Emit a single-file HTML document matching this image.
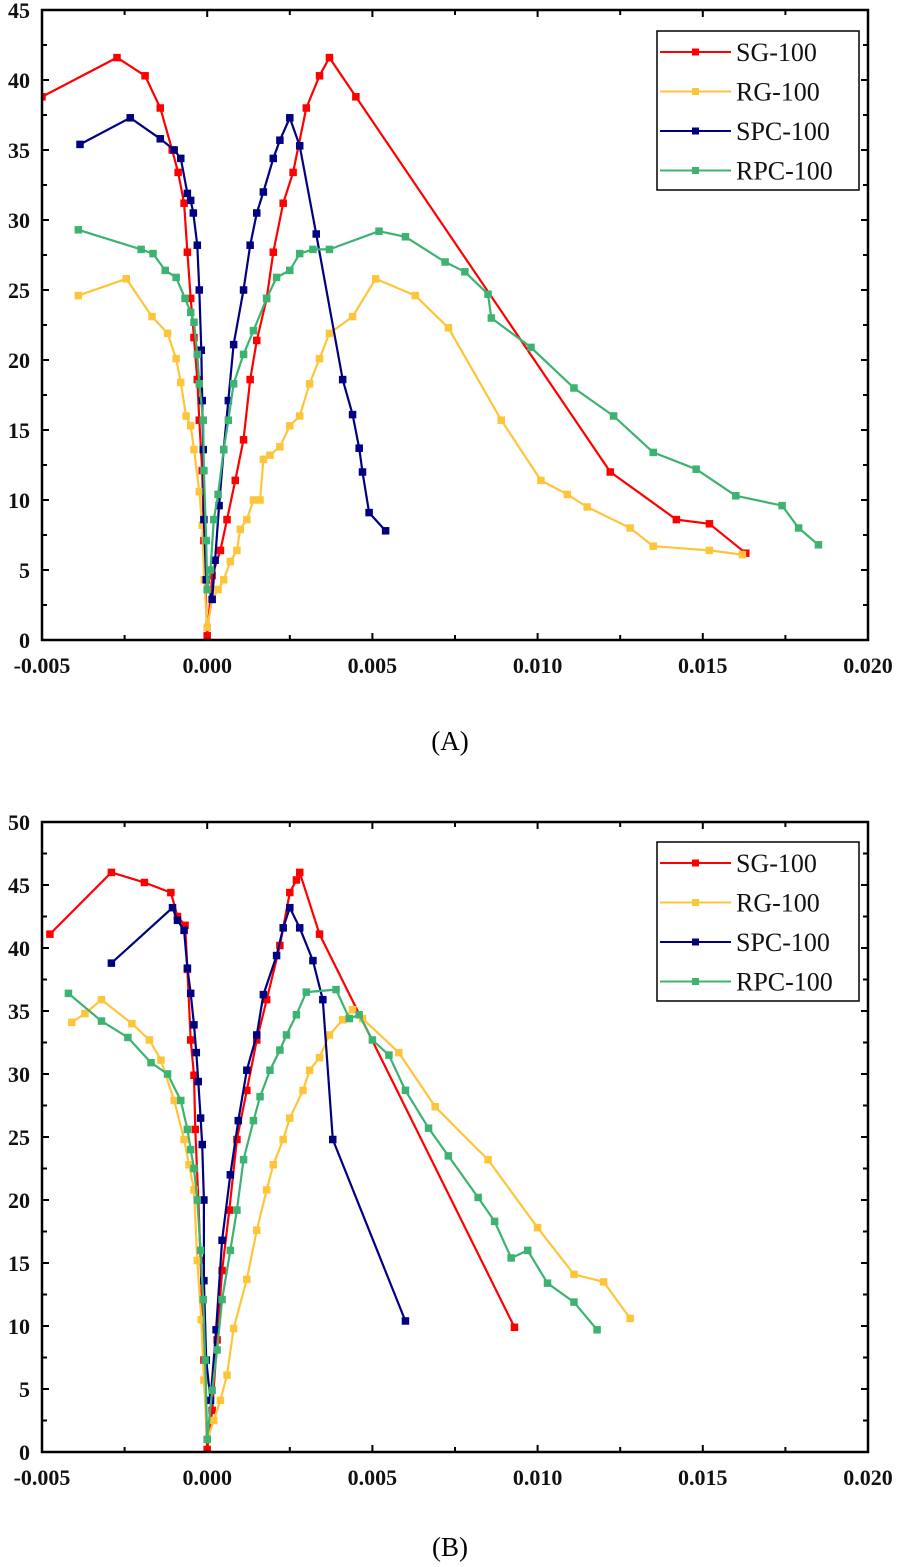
<!DOCTYPE html>
<html><head><meta charset="utf-8"><style>
html,body{margin:0;padding:0;background:#fff;}
svg{display:block;font-family:"Liberation Serif",serif;}
.tk{font-weight:bold;font-size:22px;fill:#111;}
</style></head><body>
<svg id="s" width="900" height="1567" viewBox="0 0 900 1567">
<text x="450" y="750" font-size="27" text-anchor="middle">(A)</text>
<text x="450" y="1556" font-size="27" text-anchor="middle">(B)</text>
</svg>
<script>
const seriesNames=["SG-100","RG-100","SPC-100","RPC-100"];
const seriesColors=["#ff0000","#ffc53a","#000080","#3cb371"];
const xTicks=[-0.005,0,0.005,0.010,0.015,0.020];
const xTickLabels=["-0.005","0.000","0.005","0.010","0.015","0.020"];
const yTicksA=[0,5,10,15,20,25,30,35,40,45];
const yTicksB=[0,5,10,15,20,25,30,35,40,45,50];
const aSGx=[-0.005,-0.00273,-0.00188,-0.00142,-0.00106,-0.00088,-0.0007,-0.0006,-0.0005,-0.0004,-0.0003,-0.00024,-0.00015,-0.0001,0,0.00015,0.0004,0.0006,0.00085,0.0011,0.0013,0.0015,0.0018,0.002,0.0023,0.0026,0.003,0.0034,0.0037,0.0045,0.0122,0.0142,0.0152,0.0163];
const aSGy=[38.8,41.6,40.3,38,35,33.4,31.2,27.7,24.4,21.6,18.6,15.7,12.1,7.1,0.3,4.6,6.4,8.6,11.4,14.3,18.6,21.4,24.4,27.7,31.2,33.4,38,40.3,41.6,38.8,12,8.6,8.3,6.2];
const aRGx=[-0.0039,-0.00245,-0.00167,-0.0012,-0.00094,-0.0008,-0.00064,-0.0005,-0.0004,-0.00024,-0.00015,-0.00009,0,0.00015,0.00033,0.0005,0.0007,0.0009,0.001,0.0012,0.0014,0.0016,0.0017,0.0019,0.0022,0.0025,0.0028,0.0031,0.0034,0.0037,0.0044,0.0051,0.0063,0.0073,0.0089,0.0101,0.0109,0.0115,0.0128,0.0135,0.0152,0.0162];
const aRGy=[24.6,25.8,23.1,21.9,20.1,18.4,16,15.3,13.6,10.6,8.2,4.3,0.9,2.9,3.6,4.3,5.6,6.4,7.9,8.6,10,10,12.9,13.2,13.8,15.3,16,18.3,20.1,21.9,23.1,25.8,24.6,22.3,15.7,11.4,10.4,9.5,8,6.7,6.4,6.1];
const aSPx=[-0.00385,-0.00233,-0.00142,-0.001,-0.0008,-0.0006,-0.0005,-0.00042,-0.0003,-0.00024,-0.00018,-0.00015,-0.00012,-0.0001,-0.00003,0.00015,0.00024,0.00036,0.0005,0.00064,0.0008,0.0011,0.0013,0.0015,0.0017,0.002,0.0022,0.0025,0.0028,0.0033,0.0041,0.0044,0.0046,0.0047,0.0049,0.0054];
const aSPy=[35.4,37.3,35.8,35,34.4,31.9,31.4,30.5,28.2,25,20.7,17.1,13.6,8.6,4.3,2.9,5.7,9.6,13.6,17.1,21.1,25,28.2,30.5,32,34.4,35.7,37.3,35.3,29,18.6,16.1,13.7,12,9.1,7.8];
const aRPx=[-0.0039,-0.002,-0.00164,-0.00127,-0.00094,-0.00067,-0.0005,-0.0004,-0.0003,-0.00024,-0.00012,-0.0001,-0.00003,0,0.0001,0.0002,0.00033,0.0005,0.00064,0.0008,0.0011,0.0014,0.0018,0.0021,0.0025,0.0028,0.0032,0.0037,0.0052,0.006,0.0072,0.0078,0.0085,0.0086,0.0098,0.0111,0.0123,0.0135,0.0148,0.016,0.0174,0.0179,0.0185];
const aRPy=[29.3,27.9,27.6,26.4,25.9,24.4,23.4,22.7,20.4,18.3,15.7,12.1,7.1,3.6,5,8.6,10.4,13.6,15.7,18.3,20.4,22.1,24.4,25.9,26.4,27.6,27.9,27.9,29.2,28.8,27,26.3,24.7,23,20.9,18,16,13.4,12.2,10.3,9.6,8,6.8];
const bSGx=[-0.00476,-0.0029,-0.0019,-0.0011,-0.0009,-0.00067,-0.0006,-0.0005,-0.0004,-0.00036,-0.00027,-0.0002,-0.0001,0,0.00015,0.0003,0.00045,0.00067,0.0009,0.0012,0.0015,0.0018,0.0022,0.0025,0.0027,0.0028,0.0034,0.0093];
const bSGy=[41.1,46,45.2,44.4,42.5,41.8,38.3,32.7,29.9,25.6,20,15.2,7.3,0.2,3.3,8.9,14.4,19.2,24.8,28.7,32.7,35.9,40.2,44.4,45.4,46,41.1,9.9];
const bRGx=[-0.0041,-0.0037,-0.0032,-0.00228,-0.00175,-0.0014,-0.001,-0.0007,-0.00055,-0.0004,-0.0003,-0.00018,-0.0001,0,0.0002,0.0004,0.0006,0.0008,0.0012,0.0015,0.0018,0.002,0.0023,0.0025,0.0029,0.0031,0.0034,0.0037,0.0041,0.0044,0.0047,0.0058,0.0069,0.0085,0.01,0.0111,0.012,0.0128];
const bRGy=[34.1,34.8,35.9,34,32.7,31.1,27.9,24.8,22.8,20.8,15.2,10.5,5.7,1,2.5,4.1,6.1,9.8,13.7,17.6,20.8,22.8,24.8,26.5,28.7,30.3,31.3,33.1,34.3,35.1,34.4,31.7,27.4,23.2,17.8,14.1,13.5,10.6];
const bSPx=[-0.0029,-0.00105,-0.0009,-0.0007,-0.0006,-0.0005,-0.0004,-0.00033,-0.00027,-0.0002,-0.00015,-0.0001,-0.0001,-0.00003,0.0001,0.00027,0.00045,0.0007,0.00094,0.0012,0.0015,0.0017,0.0021,0.0023,0.0025,0.0028,0.0032,0.0035,0.0038,0.006];
const bSPy=[38.8,43.2,42.2,41.4,38.4,36.4,33.9,31.7,29.4,26.5,24.4,20,13.6,7.3,4.1,9.7,16.8,22,26.3,30.3,33.1,36.3,39.4,41.6,43.2,41.6,39,35.9,24.8,10.4];
const bRPx=[-0.0042,-0.0032,-0.0024,-0.0017,-0.0012,-0.0008,-0.0006,-0.0005,-0.0004,-0.0003,-0.0002,-0.00012,-0.00006,0,0.00015,0.0003,0.00045,0.0007,0.0009,0.0011,0.0014,0.0016,0.0019,0.0022,0.0024,0.0027,0.003,0.0039,0.0043,0.0046,0.005,0.0055,0.006,0.0067,0.0073,0.0082,0.0087,0.0092,0.0097,0.0103,0.0111,0.0118];
const bRPy=[36.4,34.2,32.9,30.9,30,27.9,25.6,24,22.5,20,16,12.1,7.3,1,4.9,8.1,12.1,16,19.2,23.2,26.3,28.2,30.3,31.9,33.1,34.7,36.5,36.7,34.4,34.7,32.7,31.5,28.7,25.7,23.5,20.2,18.3,15.4,16,13.4,11.9,9.7];

const NS="http://www.w3.org/2000/svg";
const svg=document.getElementById('s');
function mk(tag,attrs,parent){const e=document.createElementNS(NS,tag);for(const k in attrs)e.setAttribute(k,attrs[k]);(parent||svg).appendChild(e);return e;}

function chart(id,top,bottom,ymax,yTicks,xs,ys,legTop){
  const L=42,R=868,xmin=-0.005,xmax=0.020;
  const X=v=>L+(v-xmin)/(xmax-xmin)*(R-L);
  const Y=v=>bottom-v/ymax*(bottom-top);
  const g=mk('g',{});
  
  
  const cp=mk('clipPath',{id:id+'-clip'},g);
  mk('rect',{x:L,y:top,width:R-L,height:bottom-top},cp);
  for(let i=0;i<xTicks.length;i++){
    const x=X(xTicks[i]);
    mk('line',{x1:x,y1:bottom,x2:x,y2:bottom-7,stroke:'#000','stroke-width':2},g);
    mk('line',{x1:x,y1:top,x2:x,y2:top+7,stroke:'#000','stroke-width':2},g);
    if(i<xTicks.length-1){const xm=X(xTicks[i]+0.0025);
      mk('line',{x1:xm,y1:bottom,x2:xm,y2:bottom-5,stroke:'#000','stroke-width':2},g);
      mk('line',{x1:xm,y1:top,x2:xm,y2:top+5,stroke:'#000','stroke-width':2},g);}
    const t=mk('text',{x:x,y:bottom+33,'text-anchor':'middle',class:'tk'},g);
    t.textContent=xTickLabels[i];
    
    
  }
  for(let i=0;i<yTicks.length;i++){
    const y=Y(yTicks[i]);
    mk('line',{x1:L,y1:y,x2:L+7,y2:y,stroke:'#000','stroke-width':2},g);
    mk('line',{x1:R,y1:y,x2:R-7,y2:y,stroke:'#000','stroke-width':2},g);
    if(i<yTicks.length-1){const ym=Y(yTicks[i]+2.5);
      mk('line',{x1:L,y1:ym,x2:L+5,y2:ym,stroke:'#000','stroke-width':2},g);
      mk('line',{x1:R,y1:ym,x2:R-5,y2:ym,stroke:'#000','stroke-width':2},g);}
    const t=mk('text',{x:30,y:y+8,'text-anchor':'end',class:'tk'},g);
    t.textContent=String(yTicks[i]);
    
    
  }
  for(let s=0;s<4;s++){
    const sg=mk('g',{'clip-path':'url(#'+id+'-clip)'},g);
    
    
    const pts=xs[s].map((v,i)=>X(v).toFixed(1)+','+Y(ys[s][i]).toFixed(1)).join(' ');
    mk('polyline',{points:pts,fill:'none',stroke:seriesColors[s],'stroke-width':2.2,'stroke-linejoin':'round'},sg);
    xs[s].forEach((v,i)=>{
      const r=mk('rect',{x:X(v)-3.75,y:Y(ys[s][i])-3.75,width:7.5,height:7.5,fill:seriesColors[s]},sg);
      
      
    });
  }
  mk('rect',{x:L,y:top,width:R-L,height:bottom-top,fill:'none',stroke:'#000','stroke-width':2.5},g);
  const lg=mk('g',{},g);
  
  
  mk('rect',{x:657,y:legTop,width:202,height:159,fill:'#fff',stroke:'#000','stroke-width':1.5},lg);
  for(let s=0;s<4;s++){
    const y=legTop+21+s*39.5;
    const e=mk('g',{},lg);
    
    
    mk('line',{x1:660,y1:y,x2:731,y2:y,stroke:seriesColors[s],'stroke-width':2},e);
    mk('rect',{x:692,y:y-3.5,width:7,height:7,fill:seriesColors[s]},e);
    const t=mk('text',{x:736,y:y+9,'font-size':26,fill:'#111'},e);
    t.textContent=seriesNames[s];
  }
}
chart('chart-a',10,640,45,yTicksA,[aSGx,aRGx,aSPx,aRPx],[aSGy,aRGy,aSPy,aRPy],31);
chart('chart-b',822,1452,50,yTicksB,[bSGx,bRGx,bSPx,bRPx],[bSGy,bRGy,bSPy,bRPy],842);
</script>
</body></html>
